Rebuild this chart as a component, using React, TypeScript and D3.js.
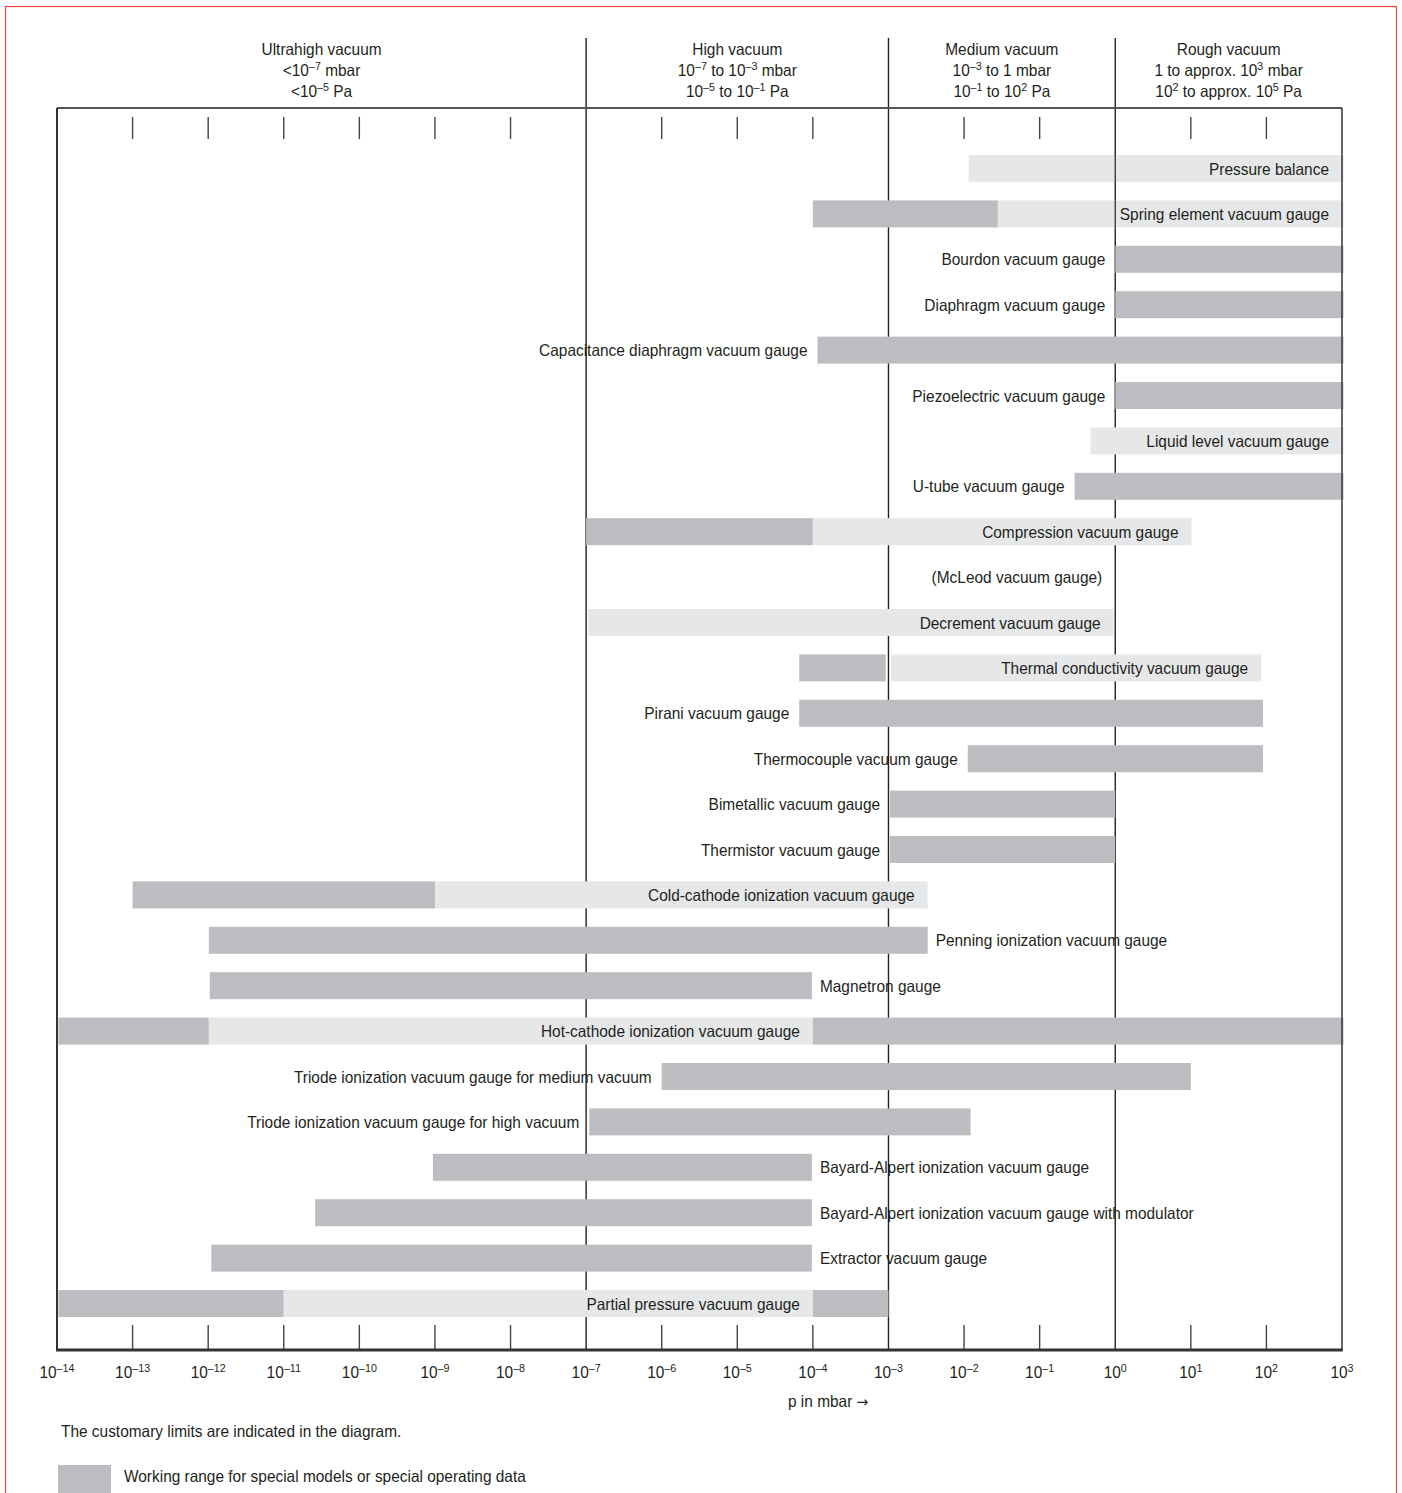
import React from "react";
import * as d3 from "d3";

// ---------- data ----------
const gauges: string[] = [
  "Pressure balance",
  "Spring element vacuum gauge",
  "Bourdon vacuum gauge",
  "Diaphragm vacuum gauge",
  "Capacitance diaphragm vacuum gauge",
  "Piezoelectric vacuum gauge",
  "Liquid level vacuum gauge",
  "U-tube vacuum gauge",
  "Compression vacuum gauge",
  "(McLeod vacuum gauge)",
  "Decrement vacuum gauge",
  "Thermal conductivity vacuum gauge",
  "Pirani vacuum gauge",
  "Thermocouple vacuum gauge",
  "Bimetallic vacuum gauge",
  "Thermistor vacuum gauge",
  "Cold-cathode ionization vacuum gauge",
  "Penning ionization vacuum gauge",
  "Magnetron gauge",
  "Hot-cathode ionization vacuum gauge",
  "Triode ionization vacuum gauge for medium vacuum",
  "Triode ionization vacuum gauge for high vacuum",
  "Bayard-Alpert ionization vacuum gauge",
  "Bayard-Alpert ionization vacuum gauge with modulator",
  "Extractor vacuum gauge",
  "Partial pressure vacuum gauge",
];

// segments: [from mbar, to mbar, kind]  kind: "S" = special models (dark), "N" = normal (light)
type Seg = [number, number, "S" | "N"];
const ranges: Seg[][] = [
  [[1.15e-2, 1e3, "N"]],
  [[1e-4, 2.8e-2, "S"], [2.8e-2, 1e3, "N"]],
  [[1, 1e3, "S"]],
  [[1, 1e3, "S"]],
  [[1.15e-4, 1e3, "S"]],
  [[1, 1e3, "S"]],
  [[0.47, 1e3, "N"]],
  [[0.29, 1e3, "S"]],
  [[1e-7, 1e-4, "S"], [1e-4, 10.2, "N"]],
  [],
  [[1.07e-7, 0.95, "N"]],
  [[6.6e-5, 9.2e-4, "S"], [1.08e-3, 85, "N"]],
  [[6.6e-5, 90, "S"]],
  [[1.12e-2, 90, "S"]],
  [[1.05e-3, 1, "S"]],
  [[1.05e-3, 1, "S"]],
  [[1e-13, 1e-9, "S"], [1e-9, 3.3e-3, "N"]],
  [[1.02e-12, 3.3e-3, "S"]],
  [[1.05e-12, 9.7e-5, "S"]],
  [[1e-14, 1.02e-12, "S"], [1.02e-12, 1e-4, "N"], [1e-4, 1e3, "S"]],
  [[1e-6, 10, "S"]],
  [[1.1e-7, 1.22e-2, "S"]],
  [[9.4e-10, 9.7e-5, "S"]],
  [[2.6e-11, 9.7e-5, "S"]],
  [[1.1e-12, 9.7e-5, "S"]],
  [[1e-14, 1e-11, "S"], [1e-11, 1e-4, "N"], [1e-4, 1e-3, "S"]],
];

// label placement: side relative to the reference value
const labelSide: ("in" | "left" | "right")[] = [
  "in", "in", "left", "left", "left", "left", "in", "left", "in", "in",
  "in", "in", "left", "left", "left", "left", "in", "right", "right", "in",
  "left", "left", "right", "right", "right", "in",
];
const labelAt: number[] = [
  1e3, 1e3, 1, 1, 1.15e-4, 1, 1e3, 0.29, 10.2, 1,
  0.95, 85, 6.6e-5, 1.12e-2, 1.05e-3, 1.05e-3, 3.3e-3, 3.3e-3, 9.7e-5, 1e-4,
  1e-6, 1.1e-7, 9.7e-5, 9.7e-5, 9.7e-5, 1e-4,
];

const exponents: number[] = d3.range(-14, 4);
const regionBounds: number[] = [1e-14, 1e-7, 1e-3, 1e0, 1e3];
const regionLabels: string[][] = [
  ["Ultrahigh vacuum", "<10^{–7} mbar", "<10^{–5} Pa"],
  ["High vacuum", "10^{–7} to 10^{–3} mbar", "10^{–5} to 10^{–1} Pa"],
  ["Medium vacuum", "10^{–3} to 1 mbar", "10^{–1} to 10^{2} Pa"],
  ["Rough vacuum", "1 to approx. 10^{3} mbar", "10^{2} to approx. 10^{5} Pa"],
];

const axisTitle = "p in mbar ";
const axisArrow = "→";
const note = "The customary limits are indicated in the diagram.";
const legendText = "Working range for special models or special operating data";

// ---------- layout ----------
const W = 1402;
const H = 1493;
const left = 57;
const right = 1342;
const top = 108;
const bottom = 1350;
const headerTop = 38;
const barH = 27;
const DARK = "#bcbdc1";
const LIGHT = "#e6e7e9";
const INK = "#231f20";
const FONT = "'Liberation Sans', Arial, Helvetica, sans-serif";
const FS = 16.5;
const SUP = 11.5;
const SX = 0.935;

function Rich({ s, x, y, anchor = "start", size = FS, supSize = SUP, children }: { s: string; x: number; y: number; anchor?: string; size?: number; supSize?: number; children?: React.ReactNode }) {
  const parts: { t: string; sup: boolean }[] = [];
  const re = /\^\{([^}]*)\}/g;
  let last = 0;
  let m: RegExpExecArray | null;
  while ((m = re.exec(s))) {
    if (m.index > last) parts.push({ t: s.slice(last, m.index), sup: false });
    parts.push({ t: m[1], sup: true });
    last = m.index + m[0].length;
  }
  if (last < s.length) parts.push({ t: s.slice(last), sup: false });
  let prevSup = false;
  return (
    <text
      transform={`translate(${x},${y}) scale(${SX},1)`}
      textAnchor={anchor}
      fontSize={size}
      fill={INK}
      fontFamily={FONT}
    >
      {parts.map((p, i) => {
        let dy = 0;
        if (p.sup && !prevSup) dy = -6;
        if (!p.sup && prevSup) dy = 6;
        prevSup = p.sup;
        return (
          <tspan key={i} dy={dy} fontSize={p.sup ? supSize : size}>
            {p.t}
          </tspan>
        );
      })}
      {children}
    </text>
  );
}

export default function App() {
  const x = d3.scaleLog().domain([1e-14, 1e3]).range([left, right]);
  const y = d3
    .scalePoint<number>()
    .domain(d3.range(gauges.length))
    .range([168.5, 1303.5]);

  const innerTicks = exponents.filter(
    (e) => e > -14 && e < 3 && !regionBounds.includes(Math.pow(10, e))
  );

  return (
    <svg
      width={W}
      height={H}
      style={{ position: "absolute", left: 0, top: 0, background: "#fff" }}
      fontFamily={FONT}
    >
      <rect x={0} y={0} width={W} height={H} fill="#fff" />
      {/* red border */}
      <rect x={5.5} y={6.5} width={1391} height={1500} fill="none" stroke="#ef4444" strokeWidth={1.2} />

      {/* region dividers (under bars) */}
      {regionBounds.slice(1, -1).map((b) => (
        <line key={b} x1={x(b)} x2={x(b)} y1={headerTop} y2={bottom} stroke={INK} strokeWidth={1.4} />
      ))}

      {/* ticks */}
      {innerTicks.map((e) => (
        <g key={e}>
          <line x1={x(Math.pow(10, e))} x2={x(Math.pow(10, e))} y1={117} y2={139} stroke="#444" strokeWidth={1.4} />
          <line x1={x(Math.pow(10, e))} x2={x(Math.pow(10, e))} y1={1325} y2={bottom} stroke="#444" strokeWidth={1.4} />
        </g>
      ))}

      {/* bars */}
      {ranges.map((segs, i) =>
        segs.map((s, j) => (
          <rect
            key={i + "-" + j}
            x={x(s[0]) + (s[0] === 1e-14 ? 1.5 : 0)}
            y={(y(i) as number) - barH / 2}
            width={x(s[1]) - x(s[0]) + (s[1] === 1e3 ? 1.5 : 0) - (s[0] === 1e-14 ? 1.5 : 0)}
            height={barH}
            fill={s[2] === "S" ? DARK : LIGHT}
          />
        ))
      )}

      {/* divider visible through the two top light bars */}
      {[0, 1].map((i) => (
        <line
          key={"thru" + i}
          x1={x(1)}
          x2={x(1)}
          y1={(y(i) as number) - barH / 2}
          y2={(y(i) as number) + barH / 2}
          stroke={INK}
          strokeWidth={1.2}
        />
      ))}

      {/* labels */}
      {gauges.map((g, i) => {
        const side = labelSide[i];
        const px = x(labelAt[i]);
        const tx = side === "in" ? px - 13 : side === "left" ? px - 10 : px + 8;
        return (
          <Rich
            key={g}
            s={g}
            x={tx}
            y={(y(i) as number) + 6}
            anchor={side === "right" ? "start" : "end"}
          />
        );
      })}

      {/* frame */}
      <line x1={left} x2={right} y1={top} y2={top} stroke="#555" strokeWidth={2} />
      <line x1={left} x2={left} y1={top} y2={bottom} stroke="#333" strokeWidth={2} />
      <line x1={right} x2={right} y1={top} y2={bottom} stroke="#333" strokeWidth={1.5} />
      <line x1={left - 1} x2={right + 0.75} y1={bottom} y2={bottom} stroke="#333" strokeWidth={3} />

      {/* header */}
      {regionLabels.map((lines, r) => {
        const cx = (x(regionBounds[r]) + x(regionBounds[r + 1])) / 2;
        return lines.map((ln, k) => (
          <Rich key={r + "-" + k} s={ln} x={cx} y={55 + k * 21} anchor="middle" />
        ));
      })}

      {/* bottom tick labels */}
      {exponents.map((e) => (
        <Rich
          key={e}
          s={"10^{" + (e < 0 ? "–" + Math.abs(e) : String(e)) + "}"}
          x={x(Math.pow(10, e))}
          y={1378}
          anchor="middle"
        />
      ))}

      <Rich s={axisTitle} x={788} y={1407}>
        <tspan fontFamily="'DejaVu Sans', sans-serif" fontSize={15}>
          {axisArrow}
        </tspan>
      </Rich>
      <Rich s={note} x={61} y={1437} />
      <rect x={58} y={1465} width={53} height={28} fill={DARK} />
      <Rich s={legendText} x={124} y={1482} />
    </svg>
  );
}
